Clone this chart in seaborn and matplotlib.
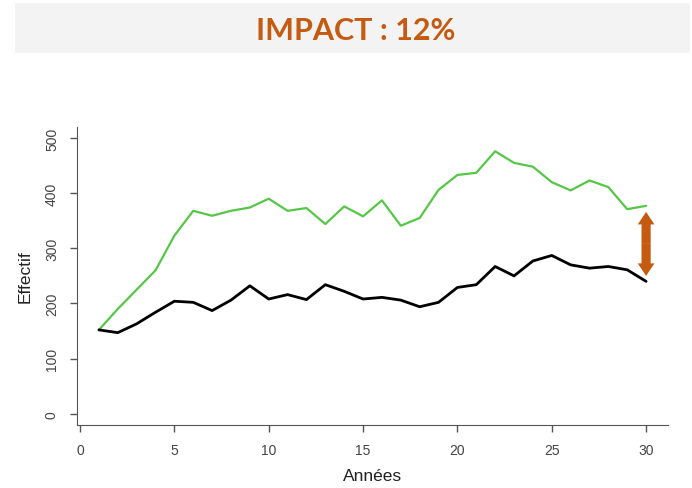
import numpy as np
import pandas as pd
import seaborn as sns
import matplotlib.pyplot as plt
from matplotlib.patches import Rectangle

# values
annees = list(range(1, 31))
effectif_vert = [152, 190, 225, 260, 323, 368, 359, 368, 374, 390,
                 368, 373, 344, 376, 358, 387, 341, 355, 406, 433,
                 437, 476, 455, 448, 420, 405, 423, 411, 371, 377]
effectif_noir = [152, 147, 163, 184, 204, 202, 187, 206, 232, 208,
                 216, 207, 234, 222, 208, 211, 206, 194, 202, 229,
                 234, 267, 250, 277, 287, 270, 264, 267, 261, 240]
fleche_annee = 30
fleche_bas, fleche_haut = 250, 366
titre = 'IMPACT : 12%'
orange = '#C55A11'

df = pd.DataFrame({'Années': annees, 'vert': effectif_vert, 'noir': effectif_noir})

sns.set_style('ticks')
plt.rcParams['font.family'] = ['Liberation Sans', 'DejaVu Sans']

fig = plt.figure(figsize=(6.92, 4.89), dpi=100)
ax = fig.add_axes([0.1113, 0.1294, 0.9653 - 0.1113, 0.7382 - 0.1294])

sns.lineplot(data=df, x='Années', y='vert', color='#55C746', lw=1.6, ax=ax)
sns.lineplot(data=df, x='Années', y='noir', color='black', lw=2.0, ax=ax)

# double arrow showing the gap
milieu = (fleche_bas + fleche_haut) / 2
for bout in (fleche_bas, fleche_haut):
    ax.annotate('', xy=(fleche_annee, bout), xytext=(fleche_annee, milieu),
                arrowprops=dict(arrowstyle='simple,head_length=0.45,head_width=0.6,tail_width=0.33',
                                mutation_scale=20, color=orange, lw=0, shrinkA=0, shrinkB=0))

ax.set_xlim(-0.16, 31.16)
ax.set_ylim(-20, 520)
ax.set_xticks([0, 5, 10, 15, 20, 25, 30])
ax.set_yticks([0, 100, 200, 300, 400, 500])
ax.set_yticklabels(['0', '100', '200', '300', '400', '500'], rotation=90, va='center')
ax.tick_params(colors='#555555', labelcolor='#444444', labelsize=10, length=5, width=1, pad=8)
for s in ('left', 'bottom'):
    ax.spines[s].set_color('#555555')
sns.despine(ax=ax)
ax.set_xlabel('Années', fontsize=12.5, color='#222222', labelpad=8)
ax.set_ylabel('Effectif', fontsize=12.5, color='#222222', labelpad=9)

# title band
fig.patches.append(Rectangle((15 / 692, 1 - 54 / 489), 675 / 692, 50 / 489,
                             transform=fig.transFigure, facecolor='#F3F3F3',
                             edgecolor='none', zorder=0))
fig.text(356 / 692, 1 - 31 / 489, titre, ha='center', va='center', fontsize=22,
         fontweight='bold', color=orange, family=['Lato', 'DejaVu Sans'])

fig.savefig('out.png', dpi=100)
